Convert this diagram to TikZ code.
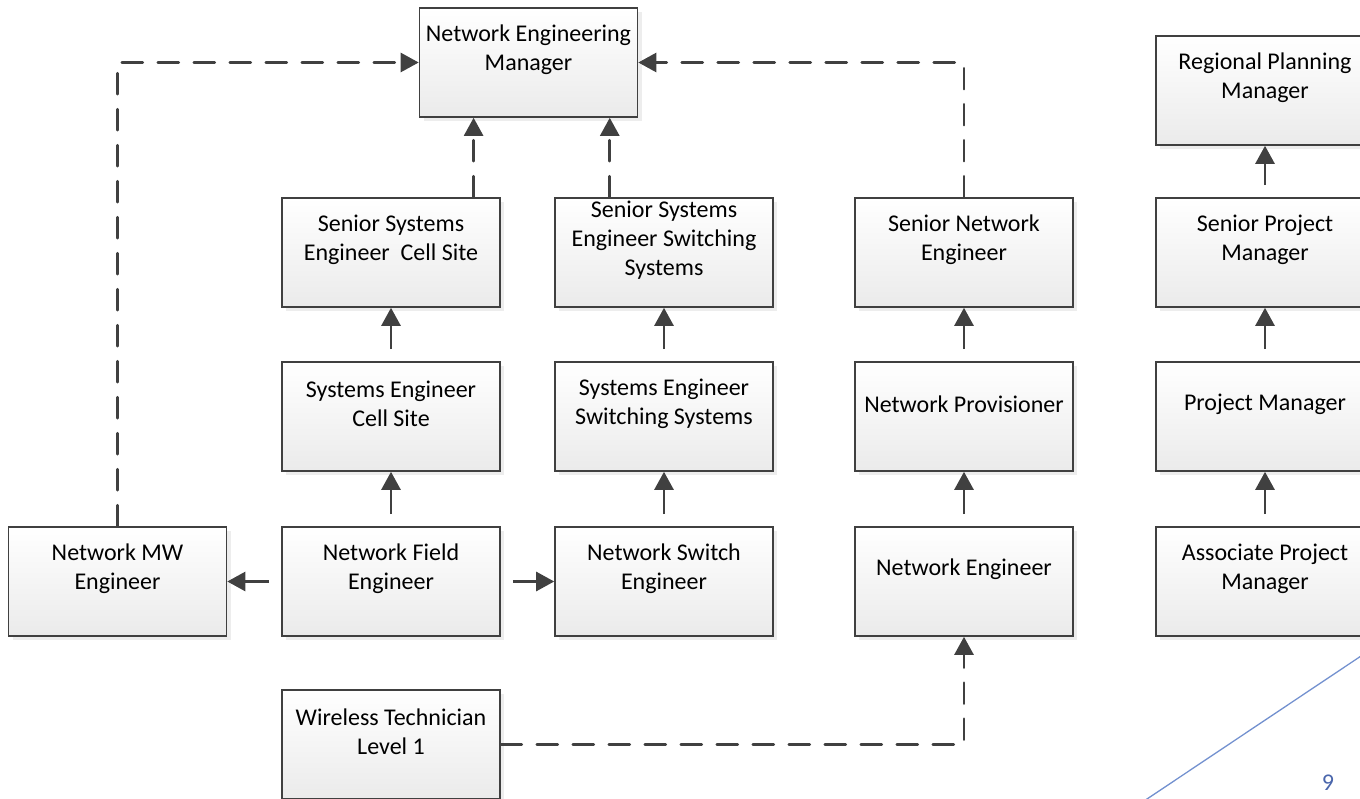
\documentclass[tikz,border=0pt]{standalone}
\usepackage{fontspec}
\setmainfont{Carlito}
\usetikzlibrary{arrows.meta,shadows,calc}

\definecolor{edgegray}{HTML}{404040}
\definecolor{slideblue}{HTML}{7391CF}
\definecolor{numblue}{HTML}{4A66AC}

\tikzset{
  role/.style={draw=edgegray, line width=1.6pt, top color=white, bottom color=black!8,
    minimum width=218pt, minimum height=109pt, inner sep=0pt,
    drop shadow={shadow xshift=4pt, shadow yshift=-4pt, fill=black!14},
    label={[align=center, yshift=12.5pt, font=\fontsize{24}{29}\selectfont]center:#1}},
  link/.style={draw=edgegray, line width=2.6pt, shorten <=12pt,
    -{Triangle[length=18pt,width=19pt]}},
  dashlink/.style={draw=edgegray, line width=2.6pt, line cap=round,
    dash pattern=on 21pt off 15pt, -{Triangle[length=18pt,width=19pt]}}
}

\begin{document}
\begin{tikzpicture}[x=1pt, y=-1pt]
\useasboundingbox (0,0) rectangle (1360,799);

% top
\node[role={Network Engineering\\Manager}] (nem) at (528.5,62.5) {};
\node[role={Regional Planning\\Manager}] (rpm) at (1265,90.5) {};
% senior row
\node[role={Senior Systems\\Engineer\ \ Cell Site}] (sscs) at (391,252.5) {};
\node[role={Senior Systems\\Engineer Switching\\Systems}] (sssw) at (664,252.5) {};
\node[role={Senior Network\\Engineer}] (sne) at (964,252.5) {};
\node[role={Senior Project\\Manager}] (spm) at (1265,252.5) {};
% middle row
\node[role={Systems Engineer\\Cell Site}] (sec) at (391,416.5) {};
\node[role={Systems Engineer\\Switching Systems}] (ses) at (664,416.5) {};
\node[role={Network Provisioner}] (np) at (964,416.5) {};
\node[role={Project Manager}] (pm) at (1265,416.5) {};
% bottom row
\node[role={Network MW\\Engineer}] (mw) at (117.5,581.5) {};
\node[role={Network Field\\Engineer}] (nfe) at (391,581.5) {};
\node[role={Network Switch\\Engineer}] (nse) at (664,581.5) {};
\node[role={Network Engineer}] (ne) at (964,581.5) {};
\node[role={Associate Project\\Manager}] (apm) at (1265,581.5) {};
\node[role={Wireless Technician\\Level 1}] (wt) at (391,744.5) {};

%solid
\draw[link] (sec.north) -- (sscs.south);
\draw[link] (nfe.north) -- (sec.south);
\draw[link] (ses.north) -- (sssw.south);
\draw[link] (nse.north) -- (ses.south);
\draw[link] (np.north) -- (sne.south);
\draw[link] (ne.north) -- (np.south);
\draw[link] (spm.north) -- (rpm.south);
\draw[link] (pm.north) -- (spm.south);
\draw[link] (apm.north) -- (pm.south);
\draw[link] (nfe.west) -- (mw.east);
\draw[link] (nfe.east) -- (nse.west);

%dashed
\coordinate (nemL) at ($(nem.south west)!0.25!(nem.south east)$);
\coordinate (nemR) at ($(nem.south west)!0.87!(nem.south east)$);
\draw[dashlink] (sscs.north -| nemL) -- (nemL);
\draw[dashlink] (sssw.north -| nemR) -- (nemR);
\draw[dashlink] (mw.north) |- (nem.west);
\draw[dashlink] (sne.north) |- (nem.east);
\draw[dashlink] (wt.east) -| (ne.south);

% slide corner
\draw[slideblue, line width=1.3pt] (1144,801) -- (1370,650);
\node[text=numblue, font=\fontsize{24}{28}\selectfont] (pagenum) at (1328,783) {9};
\end{tikzpicture}
\end{document}
